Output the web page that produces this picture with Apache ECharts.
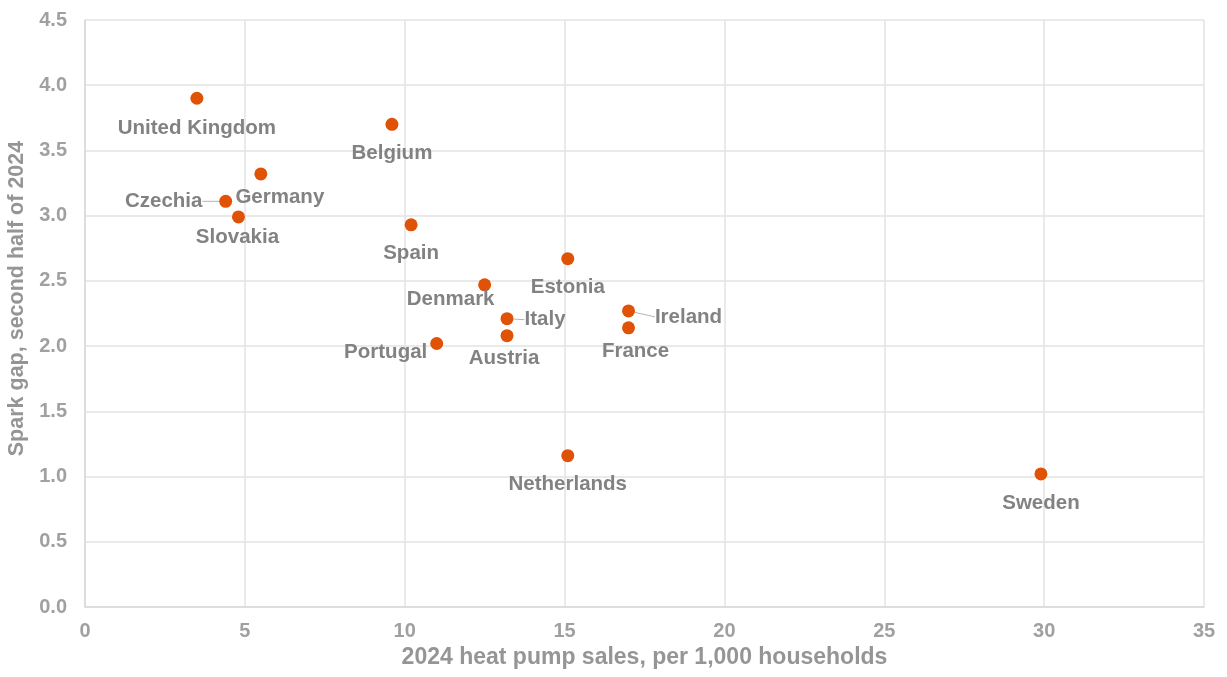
<!DOCTYPE html>
<html><head><meta charset="utf-8">
<script src="https://cdn.jsdelivr.net/npm/echarts@6/dist/echarts.min.js"></script>
<style>html,body{margin:0;padding:0;background:#fff}#c{width:1227px;height:677px}</style>
</head><body><div id="c"></div>
<script>
const countries = ["United Kingdom","Belgium","Germany","Czechia","Slovakia","Spain","Estonia","Denmark","Italy","Austria","Portugal","Ireland","France","Netherlands","Sweden"];
const heatPumpSales = [3.5, 9.6, 5.5, 4.4, 4.8, 10.2, 15.1, 12.5, 13.2, 13.2, 11.0, 17.0, 17.0, 15.1, 29.9];
const sparkGap = [3.90, 3.70, 3.32, 3.11, 2.99, 2.93, 2.67, 2.47, 2.21, 2.08, 2.02, 2.27, 2.14, 1.16, 1.02];
const xTicks = [0,5,10,15,20,25,30,35];
const yTicks = [0,0.5,1,1.5,2,2.5,3,3.5,4,4.5];

// label offsets (px) relative to marker centre
const labelOffsets = {
  "United Kingdom":[0,30], "Belgium":[0,29], "Germany":[19,23], "Czechia":[-62,0],
  "Slovakia":[-1,20], "Spain":[0,29], "Estonia":[0,29], "Denmark":[-34,15],
  "Italy":[38,1], "Austria":[-3,23], "Portugal":[-51,9], "Ireland":[60,6],
  "France":[7,23], "Netherlands":[0,29], "Sweden":[0,29]
};
const withLine = {"Czechia":true,"Italy":true,"Ireland":true};

const data = countries.map((n,i)=>({
  name:n, value:[heatPumpSales[i], sparkGap[i]],
  labelLine:{show:!!withLine[n]}
}));

const chart = echarts.init(document.getElementById('c'));
const font = 'Liberation Sans, Arial, sans-serif';
chart.setOption({
  animation:false,
  grid:{left:85,right:23,top:20,bottom:70,containLabel:false,outerBoundsMode:'none'},
  xAxis:{
    type:'value',min:0,max:35,interval:5,
    name:'2024 heat pump sales, per 1,000 households',nameLocation:'middle',nameGap:27,
    nameTextStyle:{color:'#959595',fontFamily:font,fontWeight:'bold',fontSize:23},
    axisLine:{show:true,lineStyle:{color:'#d9d9d9',width:1.5}},
    axisTick:{show:false},
    axisLabel:{color:'#a0a0a0',fontFamily:font,fontWeight:'bold',fontSize:20,margin:14},
    splitLine:{show:true,lineStyle:{color:'#e3e3e3',width:1.5}}
  },
  yAxis:{
    type:'value',min:0,max:4.5,interval:0.5,
    name:'Spark gap, second half of 2024',nameLocation:'middle',nameGap:56,
    nameTextStyle:{color:'#959595',fontFamily:font,fontWeight:'bold',fontSize:21.5,padding:[0,0,0,30]},
    axisLine:{show:true,lineStyle:{color:'#d9d9d9',width:1.5}},
    axisTick:{show:false},
    axisLabel:{color:'#a0a0a0',fontFamily:font,fontWeight:'bold',fontSize:20,margin:18,
      formatter:v=>v.toFixed(1)},
    splitLine:{show:true,lineStyle:{color:'#e3e3e3',width:1.5}}
  },
  series:[{
    type:'scatter',
    data:data,
    symbolSize:13,
    itemStyle:{color:'#E05206',opacity:1},
    label:{show:true,position:'inside',formatter:p=>p.name,color:'#828282',
      fontFamily:font,fontWeight:'bold',fontSize:20.5},
    labelLine:{show:false,lineStyle:{color:'#b4b4b4',width:1}},
    labelLayout:function(params){
      const o = labelOffsets[countries[params.dataIndex]];
      return {dx:o[0],dy:o[1]};
    }
  }]
});
</script></body></html>
